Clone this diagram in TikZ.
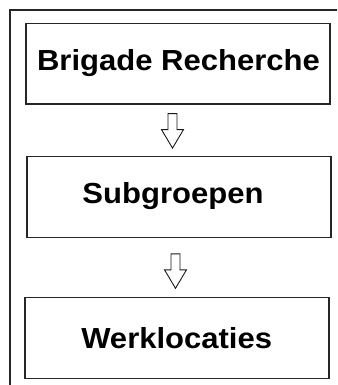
\documentclass[tikz,border=0pt]{standalone}
\usepackage{fontspec}
\setmainfont[FakeStretch=1.07]{Liberation Sans}
\usetikzlibrary{calc}

\tikzset{
  frame/.style={line width=1.5pt, draw=black!85},
  stage/.style={draw=black!85, line width=1.1pt, minimum width=304pt, inner sep=0pt},
  stagetext/.style={anchor=base, inner sep=0pt, font=\fontsize{29}{34}\bfseries\selectfont},
  blockarrow/.style={draw=black!90, line width=0.9pt, fill=white, line join=miter},
  pics/downarrow/.style={code={
    \draw[blockarrow] (-4.5,0) -- (4.5,0) -- (4.5,16) -- (11,16) -- (0,34.5)
      -- (-11,16) -- (-4.5,16) -- cycle;
  }}
}

\begin{document}
\begin{tikzpicture}[x=1pt, y=-1pt]
  \clip (0,0) rectangle (337,385);
  \fill[white] (0,0) rectangle (337,385);

  % outer frame, running off the right and bottom edges
  \draw[frame] (10,420) -- (10,10) -- (360,10);

  % the three stages
  \node[stage, minimum height=80.7pt] (b1) at (178,63.7) {};
  \node[stage, minimum height=81.7pt] (b2) at (179,196.9) {};
  \node[stage, minimum height=81pt]   (b3) at (177,338) {};

  \node[stagetext] (t1) at ($(b1.center)+(0.5,7)$)   {Brigade Recherche};
  \node[stagetext] (t2) at ($(b2.center)+(-6,6.4)$)  {Subgroepen};
  \node[stagetext] (t3) at ($(b3.center)+(-0.3,10.3)$) {Werklocaties};

  % hollow arrows between the stages
  \coordinate (a1) at ($(b1.south)+(-5.5,9)$);
  \coordinate (a2) at ($(b2.south)+(-3.5,15.5)$);
  \pic at (a1) {downarrow};
  \pic at (a2) {downarrow};
\end{tikzpicture}
\end{document}
